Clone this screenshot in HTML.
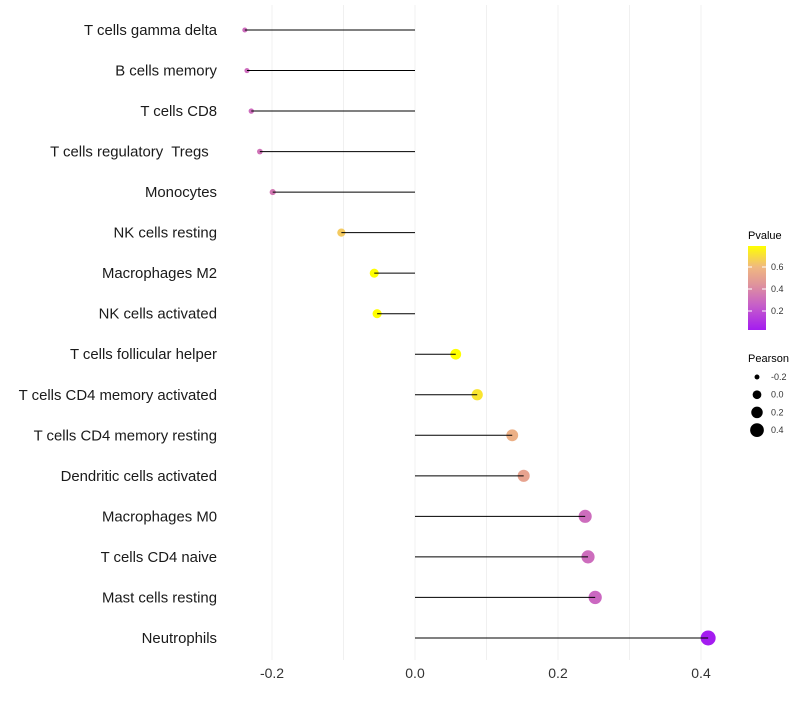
<!DOCTYPE html>
<html><head><meta charset="utf-8"><style>
body{margin:0;background:#fff;font-family:"Liberation Sans",sans-serif}
</style></head><body>
<svg id="chart" width="800" height="700" xmlns="http://www.w3.org/2000/svg" font-family="Liberation Sans, sans-serif">
<g id="grid"></g>
<g id="marks"></g>
<g id="ylabels"></g>
<g id="xlabels"></g>
<g id="legend">
<defs><linearGradient id="pg" x1="0" y1="1" x2="0" y2="0">
<stop offset="0" stop-color="#A41CF0"/><stop offset="0.3" stop-color="#C760C8"/><stop offset="0.55" stop-color="#E0959A"/><stop offset="0.75" stop-color="#F0B880"/><stop offset="1" stop-color="#FFFF00"/></linearGradient></defs>
<text x="748" y="239" font-size="11">Pvalue</text>
<rect x="748" y="246" width="18" height="84" fill="url(#pg)"/>
<g id="cbticks"></g>
<text x="748" y="362" font-size="11">Pearson</text>
<g id="sizeleg"></g>
</g>
</svg>
<script>
const categories=["T cells gamma delta","B cells memory","T cells CD8","T cells regulatory  Tregs  ","Monocytes","NK cells resting","Macrophages M2","NK cells activated","T cells follicular helper","T cells CD4 memory activated","T cells CD4 memory resting","Dendritic cells activated","Macrophages M0","T cells CD4 naive","Mast cells resting","Neutrophils"];
const pearson=[-0.238,-0.235,-0.229,-0.217,-0.199,-0.103,-0.057,-0.053,0.057,0.087,0.136,0.152,0.238,0.242,0.252,0.41];
const pvalue=[0.3,0.3,0.3,0.32,0.34,0.66,0.78,0.78,0.78,0.72,0.58,0.52,0.3,0.3,0.28,0.03];
const xTicks=[-0.2,0.0,0.2,0.4];
const xTickLabels=["-0.2","0.0","0.2","0.4"];
const cbTicks=[0.2,0.4,0.6];
const sizeLegend=[-0.2,0.0,0.2,0.4];
const NS="http://www.w3.org/2000/svg";
const x=v=>415+v*715;
const y=i=>30+i*40.53;
const r=v=>Math.sqrt(Math.max(1,6.25+(v+0.24)*77));
const cy=p=>333-p*110;
const stops=[[0.03,[164,28,240]],[0.25,[199,96,200]],[0.45,[224,149,154]],[0.62,[240,184,128]],[0.78,[255,255,0]]];
function col(p){if(p<=stops[0][0])return `rgb(${stops[0][1]})`;for(let k=1;k<stops.length;k++){if(p<=stops[k][0]){const a=stops[k-1],b=stops[k],t=(p-a[0])/(b[0]-a[0]);return `rgb(${a[1].map((c,j)=>Math.round(c+(b[1][j]-c)*t))})`;}}return "rgb(255,255,0)";}
function mk(tag,at,parent){const e=document.createElementNS(NS,tag);for(const k in at)e.setAttribute(k,at[k]);document.getElementById(parent).appendChild(e);return e;}
for(let v=-0.2;v<=0.41;v+=0.1){const g=mk("line",{x1:x(v),x2:x(v),y1:5,y2:660,stroke:"#f0f0f0","stroke-width":1},"grid");

}
xTicks.forEach((v,i)=>{const t=mk("text",{x:x(v),y:678,"font-size":14,"text-anchor":"middle",fill:"#333"},"xlabels");t.textContent=xTickLabels[i];

});
categories.forEach((c,i)=>{
const t=mk("text",{x:217,y:y(i)+5,"font-size":14.9,"text-anchor":"end",fill:"#1a1a1a",style:"white-space:pre"},"ylabels");t.textContent=c;


const p=mk("circle",{cx:x(pearson[i]),cy:y(i),r:r(pearson[i]),fill:col(pvalue[i])},"marks");


const l=mk("line",{x1:x(0),x2:x(pearson[i]),y1:y(i),y2:y(i),stroke:"#000","stroke-width":1},"marks");


});
cbTicks.forEach(v=>{mk("line",{x1:748,x2:752,y1:cy(v),y2:cy(v),stroke:"#fff"},"cbticks");mk("line",{x1:762,x2:766,y1:cy(v),y2:cy(v),stroke:"#fff"},"cbticks");
const t=mk("text",{x:771,y:cy(v)+3,"font-size":9,fill:"#333"},"cbticks");t.textContent=v.toFixed(1);

});
sizeLegend.forEach((v,i)=>{const yy=377+i*17.7;
const c=mk("circle",{cx:757,cy:yy,r:r(v)-0.6,fill:"#000"},"sizeleg");


const t=mk("text",{x:771,y:yy+3,"font-size":9,fill:"#333"},"sizeleg");t.textContent=v.toFixed(1);

});
</script>
</body></html>
